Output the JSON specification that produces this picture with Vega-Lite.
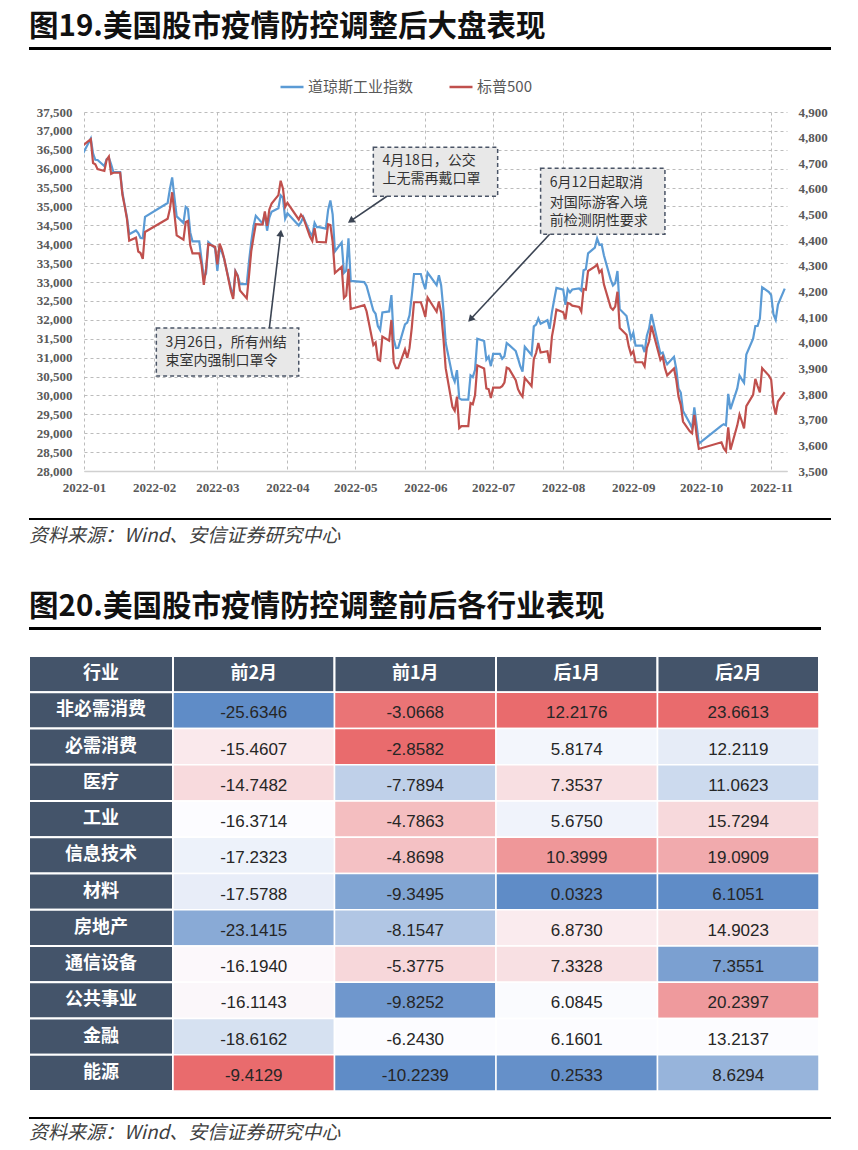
{
"$schema":"https://vega.github.io/schema/vega-lite/v6.json",
"background":"white",
"padding":{"left":28,"top":11,"right":0,"bottom":0},
"config":{"view":{"stroke":null},"font":"Noto Sans CJK SC",
"locale":{"number":{"decimal":".","thousands":",","grouping":[3],"currency":["$",""],"minus":"-"}}},
"datasets":{
"idx":[
{"date":"2021-12-31","dj":36338,"sp":4766},{"date":"2022-01-04","dj":36799,"sp":4794},{"date":"2022-01-05","dj":36407,"sp":4701},{"date":"2022-01-06","dj":36236,"sp":4696},{"date":"2022-01-07","dj":36231,"sp":4677},{"date":"2022-01-10","dj":36068,"sp":4670},{"date":"2022-01-11","dj":36252,"sp":4713},{"date":"2022-01-12","dj":36290,"sp":4726},{"date":"2022-01-13","dj":36113,"sp":4659},{"date":"2022-01-14","dj":35912,"sp":4663},{"date":"2022-01-17","dj":35912,"sp":4663},{"date":"2022-01-18","dj":35369,"sp":4577},{"date":"2022-01-19","dj":35029,"sp":4533},{"date":"2022-01-20","dj":34715,"sp":4483},{"date":"2022-01-21","dj":34265,"sp":4398},{"date":"2022-01-24","dj":34364,"sp":4410},{"date":"2022-01-25","dj":34298,"sp":4356},{"date":"2022-01-26","dj":34168,"sp":4350},{"date":"2022-01-27","dj":34160,"sp":4327},{"date":"2022-01-28","dj":34725,"sp":4432},
{"date":"2022-02-07","dj":35091,"sp":4484},{"date":"2022-02-08","dj":35463,"sp":4522},{"date":"2022-02-09","dj":35768,"sp":4587},{"date":"2022-02-10","dj":35242,"sp":4504},{"date":"2022-02-11","dj":34738,"sp":4419},{"date":"2022-02-14","dj":34566,"sp":4402},{"date":"2022-02-15","dj":34989,"sp":4471},{"date":"2022-02-16","dj":34934,"sp":4475},{"date":"2022-02-17","dj":34312,"sp":4380},{"date":"2022-02-18","dj":34079,"sp":4349},{"date":"2022-02-21","dj":34079,"sp":4349},{"date":"2022-02-22","dj":33597,"sp":4305},{"date":"2022-02-23","dj":33131,"sp":4226},{"date":"2022-02-24","dj":33224,"sp":4289},{"date":"2022-02-25","dj":34059,"sp":4385},{"date":"2022-02-28","dj":33893,"sp":4374},
{"date":"2022-03-01","dj":33294,"sp":4306},{"date":"2022-03-02","dj":33891,"sp":4387},{"date":"2022-03-03","dj":33795,"sp":4363},{"date":"2022-03-04","dj":33615,"sp":4329},{"date":"2022-03-07","dj":32818,"sp":4201},{"date":"2022-03-08","dj":32633,"sp":4171},{"date":"2022-03-09","dj":33286,"sp":4278},{"date":"2022-03-10","dj":33174,"sp":4260},{"date":"2022-03-11","dj":32945,"sp":4204},{"date":"2022-03-14","dj":32945,"sp":4173},{"date":"2022-03-15","dj":33545,"sp":4262},{"date":"2022-03-16","dj":34063,"sp":4358},{"date":"2022-03-17","dj":34481,"sp":4412},{"date":"2022-03-18","dj":34755,"sp":4463},{"date":"2022-03-21","dj":34553,"sp":4461},{"date":"2022-03-22","dj":34808,"sp":4512},{"date":"2022-03-23","dj":34359,"sp":4456},{"date":"2022-03-24","dj":34708,"sp":4520},{"date":"2022-03-25","dj":34862,"sp":4543},{"date":"2022-03-28","dj":34955,"sp":4576},{"date":"2022-03-29","dj":35295,"sp":4632},{"date":"2022-03-30","dj":35229,"sp":4602},{"date":"2022-03-31","dj":34678,"sp":4530},
{"date":"2022-04-01","dj":34818,"sp":4546},{"date":"2022-04-06","dj":34497,"sp":4481},{"date":"2022-04-07","dj":34583,"sp":4500},{"date":"2022-04-08","dj":34721,"sp":4488},{"date":"2022-04-11","dj":34308,"sp":4413},{"date":"2022-04-12","dj":34220,"sp":4397},{"date":"2022-04-13","dj":34565,"sp":4447},{"date":"2022-04-14","dj":34451,"sp":4393},{"date":"2022-04-15","dj":34451,"sp":4393},{"date":"2022-04-18","dj":34412,"sp":4392},{"date":"2022-04-19","dj":34911,"sp":4462},{"date":"2022-04-20","dj":35161,"sp":4459},{"date":"2022-04-21","dj":34793,"sp":4394},{"date":"2022-04-22","dj":33811,"sp":4272},{"date":"2022-04-25","dj":34049,"sp":4296},{"date":"2022-04-26","dj":33240,"sp":4175},{"date":"2022-04-27","dj":33302,"sp":4184},{"date":"2022-04-28","dj":34160,"sp":4288},{"date":"2022-04-29","dj":33031,"sp":4132},
{"date":"2022-05-05","dj":32998,"sp":4147},{"date":"2022-05-06","dj":32899,"sp":4123},{"date":"2022-05-09","dj":32246,"sp":3991},{"date":"2022-05-10","dj":32161,"sp":4001},{"date":"2022-05-11","dj":31834,"sp":3935},{"date":"2022-05-12","dj":31730,"sp":3930},{"date":"2022-05-13","dj":32197,"sp":4024},{"date":"2022-05-16","dj":32223,"sp":4008},{"date":"2022-05-17","dj":32655,"sp":4089},{"date":"2022-05-18","dj":31490,"sp":3924},{"date":"2022-05-19","dj":31253,"sp":3901},{"date":"2022-05-20","dj":31262,"sp":3901},{"date":"2022-05-23","dj":31880,"sp":3974},{"date":"2022-05-24","dj":31929,"sp":3941},{"date":"2022-05-25","dj":32120,"sp":3979},{"date":"2022-05-26","dj":32637,"sp":4058},{"date":"2022-05-27","dj":33213,"sp":4158},{"date":"2022-05-30","dj":33213,"sp":4158},{"date":"2022-05-31","dj":32990,"sp":4132},
{"date":"2022-06-01","dj":32813,"sp":4101},{"date":"2022-06-02","dj":33248,"sp":4177},{"date":"2022-06-06","dj":32916,"sp":4121},{"date":"2022-06-07","dj":33180,"sp":4161},{"date":"2022-06-08","dj":32910,"sp":4116},{"date":"2022-06-09","dj":32273,"sp":4018},{"date":"2022-06-10","dj":31393,"sp":3901},{"date":"2022-06-13","dj":30517,"sp":3750},{"date":"2022-06-14","dj":30365,"sp":3735},{"date":"2022-06-15","dj":30669,"sp":3790},{"date":"2022-06-16","dj":29927,"sp":3667},{"date":"2022-06-17","dj":29889,"sp":3675},{"date":"2022-06-20","dj":29889,"sp":3675},{"date":"2022-06-21","dj":30530,"sp":3765},{"date":"2022-06-22","dj":30483,"sp":3760},{"date":"2022-06-23","dj":30677,"sp":3796},{"date":"2022-06-24","dj":31501,"sp":3912},{"date":"2022-06-27","dj":31439,"sp":3900},{"date":"2022-06-28","dj":30947,"sp":3822},{"date":"2022-06-29","dj":31029,"sp":3819},{"date":"2022-06-30","dj":30775,"sp":3785},
{"date":"2022-07-01","dj":31097,"sp":3825},{"date":"2022-07-04","dj":31097,"sp":3825},{"date":"2022-07-05","dj":30968,"sp":3831},{"date":"2022-07-06","dj":31037,"sp":3845},{"date":"2022-07-07","dj":31385,"sp":3903},{"date":"2022-07-08","dj":31338,"sp":3899},{"date":"2022-07-11","dj":31174,"sp":3854},{"date":"2022-07-12","dj":30981,"sp":3819},{"date":"2022-07-13","dj":30773,"sp":3802},{"date":"2022-07-14","dj":30630,"sp":3790},{"date":"2022-07-15","dj":31289,"sp":3863},{"date":"2022-07-18","dj":31073,"sp":3831},{"date":"2022-07-19","dj":31827,"sp":3937},{"date":"2022-07-20","dj":31875,"sp":3960},{"date":"2022-07-21","dj":32036,"sp":3999},{"date":"2022-07-22","dj":31899,"sp":3962},{"date":"2022-07-25","dj":31990,"sp":3967},{"date":"2022-07-26","dj":31762,"sp":3921},{"date":"2022-07-27","dj":32198,"sp":4024},{"date":"2022-07-28","dj":32530,"sp":4072},{"date":"2022-07-29","dj":32845,"sp":4130},
{"date":"2022-08-01","dj":32798,"sp":4119},{"date":"2022-08-02","dj":32397,"sp":4091},{"date":"2022-08-03","dj":32813,"sp":4155},{"date":"2022-08-04","dj":32727,"sp":4152},{"date":"2022-08-05","dj":32803,"sp":4145},{"date":"2022-08-08","dj":32833,"sp":4140},{"date":"2022-08-09","dj":32775,"sp":4122},{"date":"2022-08-10","dj":33310,"sp":4210},{"date":"2022-08-11","dj":33337,"sp":4207},{"date":"2022-08-12","dj":33761,"sp":4280},{"date":"2022-08-15","dj":33913,"sp":4297},{"date":"2022-08-16","dj":34152,"sp":4305},{"date":"2022-08-17","dj":33981,"sp":4274},{"date":"2022-08-18","dj":33999,"sp":4284},{"date":"2022-08-19","dj":33707,"sp":4228},{"date":"2022-08-22","dj":33064,"sp":4138},{"date":"2022-08-23","dj":32910,"sp":4129},{"date":"2022-08-24","dj":32970,"sp":4141},{"date":"2022-08-25","dj":33292,"sp":4199},{"date":"2022-08-26","dj":32283,"sp":4058},{"date":"2022-08-29","dj":32099,"sp":4031},{"date":"2022-08-30","dj":31791,"sp":3986},{"date":"2022-08-31","dj":31510,"sp":3955},
{"date":"2022-09-01","dj":31657,"sp":3967},{"date":"2022-09-02","dj":31319,"sp":3924},{"date":"2022-09-05","dj":31319,"sp":3924},{"date":"2022-09-06","dj":31146,"sp":3908},{"date":"2022-09-07","dj":31581,"sp":3980},{"date":"2022-09-08","dj":31775,"sp":4006},{"date":"2022-09-09","dj":32152,"sp":4067},{"date":"2022-09-13","dj":31105,"sp":3933},{"date":"2022-09-14","dj":31135,"sp":3946},{"date":"2022-09-15","dj":30962,"sp":3901},{"date":"2022-09-16","dj":30822,"sp":3873},{"date":"2022-09-19","dj":31020,"sp":3900},{"date":"2022-09-20","dj":30707,"sp":3856},{"date":"2022-09-21","dj":30184,"sp":3790},{"date":"2022-09-22","dj":30077,"sp":3758},{"date":"2022-09-23","dj":29590,"sp":3693},{"date":"2022-09-26","dj":29261,"sp":3655},{"date":"2022-09-27","dj":29135,"sp":3647},{"date":"2022-09-28","dj":29684,"sp":3719},{"date":"2022-09-29","dj":29226,"sp":3640},{"date":"2022-09-30","dj":28726,"sp":3586},
{"date":"2022-10-10","dj":29203,"sp":3612},{"date":"2022-10-11","dj":29240,"sp":3589},{"date":"2022-10-12","dj":29211,"sp":3577},{"date":"2022-10-13","dj":30039,"sp":3670},{"date":"2022-10-14","dj":29635,"sp":3583},{"date":"2022-10-17","dj":30186,"sp":3678},{"date":"2022-10-18","dj":30524,"sp":3720},{"date":"2022-10-19","dj":30424,"sp":3695},{"date":"2022-10-20","dj":30334,"sp":3666},{"date":"2022-10-21","dj":31083,"sp":3753},{"date":"2022-10-24","dj":31500,"sp":3797},{"date":"2022-10-25","dj":31837,"sp":3859},{"date":"2022-10-26","dj":31839,"sp":3831},{"date":"2022-10-27","dj":32034,"sp":3807},{"date":"2022-10-28","dj":32862,"sp":3901},{"date":"2022-10-31","dj":32733,"sp":3872},
{"date":"2022-11-01","dj":32653,"sp":3856},{"date":"2022-11-02","dj":32148,"sp":3760},{"date":"2022-11-03","dj":32001,"sp":3720},{"date":"2022-11-04","dj":32403,"sp":3771},{"date":"2022-11-07","dj":32827,"sp":3807}
],
"boxes":[
{"x1":"2022-05-09","x2":"2022-07-03","y1":36567,"y2":35271},
{"x1":"2022-07-22","x2":"2022-09-15","y1":36011,"y2":34266},
{"x1":"2022-02-02","x2":"2022-04-06","y1":31781,"y2":30512}
],
"notes":[
{"x":"2022-05-13","y":36196,"t":"4月18日，公交"},
{"x":"2022-05-13","y":35721,"t":"上无需再戴口罩"},
{"x":"2022-07-26","y":35615,"t":"6月12日起取消"},
{"x":"2022-07-26","y":35086,"t":"对国际游客入境"},
{"x":"2022-07-26","y":34610,"t":"前检测阴性要求"},
{"x":"2022-02-06","y":31383,"t":"3月26日，所有州结"},
{"x":"2022-02-06","y":30907,"t":"束室内强制口罩令"}
],
"arrows":[
{"id":1,"x1":"2022-05-15","y1":35271,"x2":"2022-04-29","y2":34618},
{"id":2,"x1":"2022-07-26","y1":34266,"x2":"2022-06-21","y2":32016},
{"id":3,"x1":"2022-03-24","y1":31781,"x2":"2022-03-29","y2":34293}
],
"rows":[{"n":"行业"},{"n":"非必需消费"},{"n":"必需消费"},{"n":"医疗"},{"n":"工业"},{"n":"信息技术"},{"n":"材料"},{"n":"房地产"},{"n":"通信设备"},{"n":"公共事业"},{"n":"金融"},{"n":"能源"}],
"hdr":[{"c":"前2月","r":"行业"},{"c":"前1月","r":"行业"},{"c":"后1月","r":"行业"},{"c":"后2月","r":"行业"}],
"sect":[
{"r":"非必需消费","c":"前2月","v":-25.6346},{"r":"非必需消费","c":"前1月","v":-3.0668},{"r":"非必需消费","c":"后1月","v":12.2176},{"r":"非必需消费","c":"后2月","v":23.6613},
{"r":"必需消费","c":"前2月","v":-15.4607},{"r":"必需消费","c":"前1月","v":-2.8582},{"r":"必需消费","c":"后1月","v":5.8174},{"r":"必需消费","c":"后2月","v":12.2119},
{"r":"医疗","c":"前2月","v":-14.7482},{"r":"医疗","c":"前1月","v":-7.7894},{"r":"医疗","c":"后1月","v":7.3537},{"r":"医疗","c":"后2月","v":11.0623},
{"r":"工业","c":"前2月","v":-16.3714},{"r":"工业","c":"前1月","v":-4.7863},{"r":"工业","c":"后1月","v":5.675},{"r":"工业","c":"后2月","v":15.7294},
{"r":"信息技术","c":"前2月","v":-17.2323},{"r":"信息技术","c":"前1月","v":-4.8698},{"r":"信息技术","c":"后1月","v":10.3999},{"r":"信息技术","c":"后2月","v":19.0909},
{"r":"材料","c":"前2月","v":-17.5788},{"r":"材料","c":"前1月","v":-9.3495},{"r":"材料","c":"后1月","v":0.0323},{"r":"材料","c":"后2月","v":6.1051},
{"r":"房地产","c":"前2月","v":-23.1415},{"r":"房地产","c":"前1月","v":-8.1547},{"r":"房地产","c":"后1月","v":6.873},{"r":"房地产","c":"后2月","v":14.9023},
{"r":"通信设备","c":"前2月","v":-16.194},{"r":"通信设备","c":"前1月","v":-5.3775},{"r":"通信设备","c":"后1月","v":7.3328},{"r":"通信设备","c":"后2月","v":7.3551},
{"r":"公共事业","c":"前2月","v":-16.1143},{"r":"公共事业","c":"前1月","v":-9.8252},{"r":"公共事业","c":"后1月","v":6.0845},{"r":"公共事业","c":"后2月","v":20.2397},
{"r":"金融","c":"前2月","v":-18.6162},{"r":"金融","c":"前1月","v":-6.243},{"r":"金融","c":"后1月","v":6.1601},{"r":"金融","c":"后2月","v":13.2137},
{"r":"能源","c":"前2月","v":-9.4129},{"r":"能源","c":"前1月","v":-10.2239},{"r":"能源","c":"后1月","v":0.2533},{"r":"能源","c":"后2月","v":8.6294}
]
},
"spacing":0,
"bounds":"full",
"vconcat":[
{"width":802,"height":3,"view":{"fill":"#000","stroke":null},"data":{"values":[]},"mark":"point",
 "title":{"text":"图19.美国股市疫情防控调整后大盘表现","anchor":"start","fontSize":29.5,"fontWeight":"bold","color":"#111","offset":5,"font":"Noto Sans CJK SC"}},
{"width":1,"height":24,"view":{"fill":"white","stroke":null},"data":{"values":[]},"mark":"point"},
{"spacing":0,"bounds":"flush","hconcat":[
 {"width":55,"height":359,"view":{"fill":"white","stroke":null},"data":{"values":[]},"mark":"point"},
 {"width":703,"height":359,
  "layer":[
   {"data":{"name":"idx"},"mark":{"type":"line","strokeWidth":2.2,"clip":true},
    "encoding":{
     "x":{"field":"date","type":"temporal","scale":{"domain":[{"year":2022,"month":1,"date":1},{"year":2022,"month":11,"date":8}]},
      "axis":{"title":null,"format":"%Y-%m","tickCount":{"interval":"month","step":1},"grid":true,"gridDash":[3,3],"gridColor":"#bcbcbc","ticks":false,"domain":true,"domainColor":"#d0d0d0","domainWidth":1.5,"labelPadding":10,"labelFlush":false,"labelFont":"Liberation Serif","labelFontWeight":"bold","labelFontSize":13,"labelColor":"#595959"}},
     "y":{"field":"dj","type":"quantitative","scale":{"domain":[28000,37500],"zero":false,"nice":false},
      "axis":{"title":null,"format":",.0f","values":[28000,28500,29000,29500,30000,30500,31000,31500,32000,32500,33000,33500,34000,34500,35000,35500,36000,36500,37000,37500],"grid":true,"gridDash":[3,3],"gridColor":"#bcbcbc","domain":false,"ticks":false,"labelPadding":12,"labelFont":"Liberation Serif","labelFontWeight":"bold","labelFontSize":13,"labelColor":"#595959"}},
     "color":{"datum":"道琼斯工业指数","type":"nominal","scale":{"domain":["道琼斯工业指数","标普500"],"range":["#5b9bd5","#c0504d"]},
      "legend":{"orient":"none","legendX":250,"legendY":-38,"direction":"horizontal","title":null,"symbolType":"stroke","symbolSize":529,"symbolStrokeWidth":2.5,"labelFont":"Noto Sans CJK SC","labelFontSize":15,"labelColor":"#595959","columnPadding":30,"labelOffset":3}}
    }},
   {"data":{"name":"idx"},"mark":{"type":"line","strokeWidth":2.2,"clip":true},
    "encoding":{
     "x":{"field":"date","type":"temporal"},
     "y":{"field":"sp","type":"quantitative","scale":{"domain":[3500,4900],"zero":false,"nice":false},
      "axis":{"orient":"right","title":null,"format":",.0f","values":[3500,3600,3700,3800,3900,4000,4100,4200,4300,4400,4500,4600,4700,4800,4900],"grid":false,"domain":false,"ticks":false,"labelPadding":11,"labelFont":"Liberation Serif","labelFontWeight":"bold","labelFontSize":13,"labelColor":"#595959"}},
     "color":{"datum":"标普500","type":"nominal"}
    }},
   {"data":{"name":"boxes"},"mark":{"type":"rect","fill":"#e8e8e8","stroke":"#4a5466","strokeDash":[4,3],"strokeWidth":1.5},
    "encoding":{"x":{"field":"x1","type":"temporal"},"x2":{"field":"x2"},
     "y":{"field":"y1","type":"quantitative","scale":{"domain":[28000,37500],"nice":false,"zero":false},"axis":null},"y2":{"field":"y2"}}},
   {"data":{"name":"notes"},"mark":{"type":"text","align":"left","baseline":"middle","fontSize":14,"color":"#333333"},
    "encoding":{"x":{"field":"x","type":"temporal"},
     "y":{"field":"y","type":"quantitative","scale":{"domain":[28000,37500],"nice":false,"zero":false},"axis":null},"text":{"field":"t"}}},
   {"data":{"name":"arrows"},"mark":{"type":"rule","color":"#3b4453","strokeWidth":1.6},
    "encoding":{"x":{"field":"x1","type":"temporal"},"x2":{"field":"x2"},
     "y":{"field":"y1","type":"quantitative","scale":{"domain":[28000,37500],"nice":false,"zero":false},"axis":null},"y2":{"field":"y2"}}},
   {"data":{"name":"arrows"},"transform":[{"filter":"datum.id==1"}],"mark":{"type":"point","shape":"triangle-up","filled":true,"opacity":1,"color":"#3b4453","size":60,"angle":235},
    "encoding":{"x":{"field":"x2","type":"temporal"},"y":{"field":"y2","type":"quantitative","scale":{"domain":[28000,37500],"nice":false,"zero":false},"axis":null}}},
   {"data":{"name":"arrows"},"transform":[{"filter":"datum.id==2"}],"mark":{"type":"point","shape":"triangle-up","filled":true,"opacity":1,"color":"#3b4453","size":60,"angle":223},
    "encoding":{"x":{"field":"x2","type":"temporal"},"y":{"field":"y2","type":"quantitative","scale":{"domain":[28000,37500],"nice":false,"zero":false},"axis":null}}},
   {"data":{"name":"arrows"},"transform":[{"filter":"datum.id==3"}],"mark":{"type":"point","shape":"triangle-up","filled":true,"opacity":1,"color":"#3b4453","size":60,"angle":7},
    "encoding":{"x":{"field":"x2","type":"temporal"},"y":{"field":"y2","type":"quantitative","scale":{"domain":[28000,37500],"nice":false,"zero":false},"axis":null}}}
  ],
  "resolve":{"scale":{"y":"independent"}}
 }
]},
{"width":1,"height":24,"view":{"fill":"white","stroke":null},"data":{"values":[]},"mark":"point"},
{"width":802,"height":2,"view":{"fill":"#000","stroke":null},"data":{"values":[]},"mark":"point",
 "title":{"text":"资料来源：Wind、安信证券研究中心","orient":"bottom","anchor":"start","fontSize":19,"fontStyle":"italic","fontWeight":"normal","color":"#404040","offset":7}},
{"width":1,"height":45,"view":{"fill":"white","stroke":null},"data":{"values":[]},"mark":"point"},
{"width":792,"height":3,"view":{"fill":"#000","stroke":null},"data":{"values":[]},"mark":"point",
 "title":{"text":"图20.美国股市疫情防控调整前后各行业表现","anchor":"start","fontSize":29.5,"fontWeight":"bold","color":"#111","offset":5,"font":"Noto Sans CJK SC"}},
{"width":1,"height":25,"view":{"fill":"white","stroke":null},"data":{"values":[]},"mark":"point"},
{"spacing":0,"bounds":"flush","hconcat":[
 {"width":144,"height":435,"data":{"name":"rows"},
  "layer":[
   {"mark":{"type":"rect","fill":"#44546a","stroke":"white","strokeWidth":2},
    "encoding":{"y":{"field":"n","type":"nominal","sort":null,"scale":{"domain":["行业","非必需消费","必需消费","医疗","工业","信息技术","材料","房地产","通信设备","公共事业","金融","能源"],"paddingInner":0,"paddingOuter":0},"axis":null}}},
   {"mark":{"type":"text","color":"white","fontSize":18,"fontWeight":"bold"},
    "encoding":{"y":{"field":"n","type":"nominal","sort":null,"axis":null},"text":{"field":"n"}}}
  ]},
 {"width":646,"height":435,
  "layer":[
   {"data":{"name":"hdr"},"mark":{"type":"rect","fill":"#44546a","stroke":"white","strokeWidth":2},
    "encoding":{"x":{"field":"c","type":"nominal","sort":null,"scale":{"domain":["前2月","前1月","后1月","后2月"],"paddingInner":0,"paddingOuter":0},"axis":null},
     "y":{"field":"r","type":"nominal","sort":null,"scale":{"domain":["行业","非必需消费","必需消费","医疗","工业","信息技术","材料","房地产","通信设备","公共事业","金融","能源"],"paddingInner":0,"paddingOuter":0},"axis":null}}},
   {"data":{"name":"hdr"},"mark":{"type":"text","color":"white","fontSize":18,"fontWeight":"bold"},
    "encoding":{"x":{"field":"c","type":"nominal","sort":null,"axis":null},"y":{"field":"r","type":"nominal","sort":null,"axis":null},"text":{"field":"c"}}},
   {"data":{"name":"sect"},
    "transform":[
     {"joinaggregate":[{"op":"min","field":"v","as":"vmin"},{"op":"max","field":"v","as":"vmax"},{"op":"median","field":"v","as":"vmed"}],"groupby":["c"]},
     {"calculate":"datum.v < datum.vmed ? (datum.v - datum.vmed)/(datum.vmed - datum.vmin) : (datum.v - datum.vmed)/(datum.vmax - datum.vmed)","as":"t"}
    ],
    "mark":{"type":"rect","stroke":"white","strokeWidth":1.5},
    "encoding":{"x":{"field":"c","type":"nominal","sort":null,"axis":null},"y":{"field":"r","type":"nominal","sort":null,"axis":null},
     "color":{"field":"t","type":"quantitative","scale":{"domain":[-1,0,1],"range":["#5f8cc7","#fcfcff","#e96b6d"],"interpolate":"rgb"},"legend":null}}},
   {"data":{"name":"sect"},"mark":{"type":"text","color":"#262626","fontSize":17,"font":"Liberation Sans","dy":3},
    "encoding":{"x":{"field":"c","type":"nominal","sort":null,"axis":null},"y":{"field":"r","type":"nominal","sort":null,"axis":null},"text":{"field":"v","type":"quantitative","format":".4f"}}}
  ]}
]},
{"width":1,"height":25,"view":{"fill":"white","stroke":null},"data":{"values":[]},"mark":"point"},
{"width":802,"height":2,"view":{"fill":"#000","stroke":null},"data":{"values":[]},"mark":"point",
 "title":{"text":"资料来源：Wind、安信证券研究中心","orient":"bottom","anchor":"start","fontSize":19,"fontStyle":"italic","fontWeight":"normal","color":"#404040","offset":5}}
]
}
